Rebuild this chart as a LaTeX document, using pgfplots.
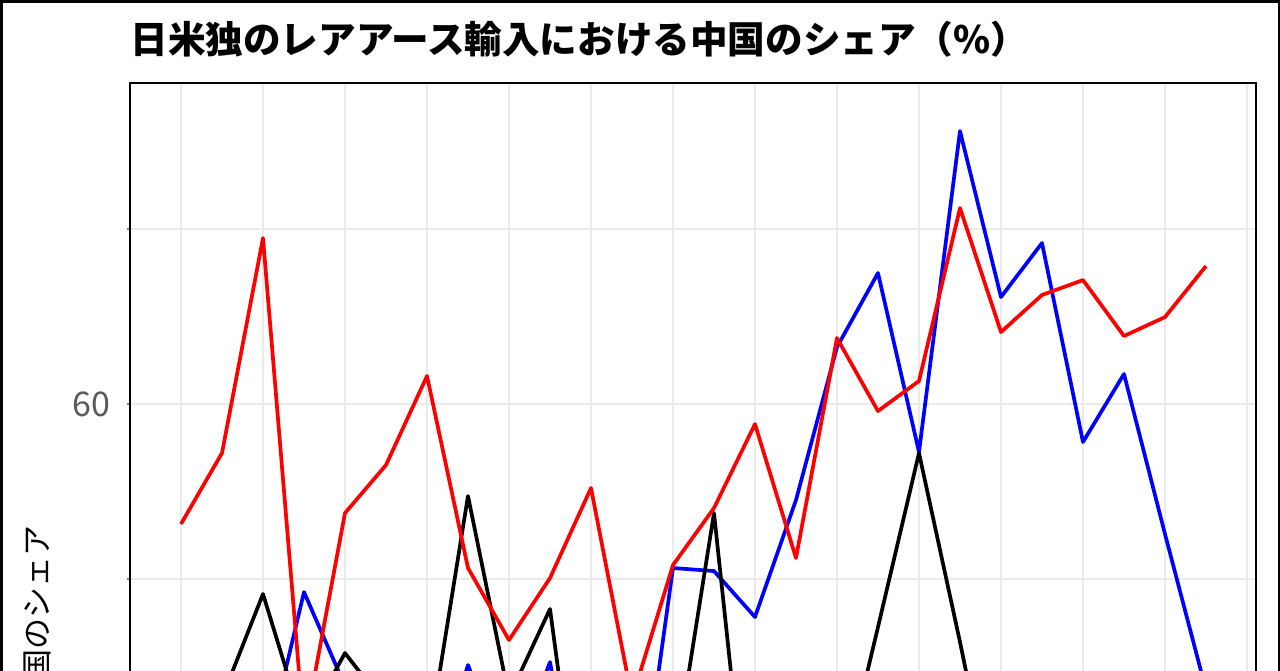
\documentclass[border=0pt]{standalone}
\usepackage{fontspec}
\usepackage{pgfplots}
\pgfplotsset{compat=1.18}
\newfontfamily\cjk{Noto Sans CJK JP}
\definecolor{gridgray}{HTML}{EBEBEB}
\definecolor{ticktxt}{HTML}{5A5A5A}

% index 0..25, one point per period; values in %
\pgfplotstableread{
i  jp     us     de
0  46.29  12.0   20.0
1  54.40  8.0    26.4
2  78.97  18.74  38.29
3  22.50  38.51  23.0
4  47.54  27.77  31.54
5  53.03  15.0   25.5
6  63.20  15.0   20.34
7  41.26  30.17  49.49
8  33.03  18.0   26.51
9  40.11  30.51  36.57
10 50.40  5.0    1.83
11 26.29  7.54   2.0
12 41.60  41.26  17.94
13 48.11  40.91  47.54
14 57.71  35.66  3.54
15 42.40  49.03  3.0
16 67.54  66.51  14.86
17 59.20  74.97  34.51
18 62.63  54.51  54.40
19 82.40  91.20  32.80
20 68.23  72.23  10.0
21 72.46  78.40  8.0
22 74.17  55.66  12.0
23 67.77  63.43  5.0
24 69.94  45.14  9.0
25 75.77  27.31  6.0
}\shares

\begin{document}
\begin{tikzpicture}
\path[use as bounding box] (0,0) rectangle (640pt,-335pt);
\clip (0,0) rectangle (640pt,-335pt);
\fill[white] (0,0) rectangle (640pt,-335pt);

\begin{axis}[
    at={(65pt,-41.5pt)}, anchor=north west,
    scale only axis,
    width=563pt, height=423pt,
    xmin=-1.244, xmax=26.22,
    ymin=0, ymax=96.69,
    xtick={0,2,...,26},
    xticklabels={},
    xtick style={draw=none},
    ytick={40,60,80},
    yticklabels={,60,},
    ytick pos=left,
    tick align=outside,
    major tick length=1.5pt,
    ytick style={draw=gray, line width=0.6pt},
    grid=major,
    major grid style={draw=gridgray, line width=1.1pt},
    axis line style={black, line width=0.9pt},
    yticklabel style={font=\cjk\fontsize{17}{17}\selectfont, text=ticktxt, xshift=-5pt},
    /pgf/number format/assume math mode=true,
]
\addplot[blue, line width=1.85pt, line join=round] table[x=i, y=us] {\shares};
\addplot[black, line width=1.85pt, line join=round] table[x=i, y=de] {\shares};
\addplot[red, line width=1.85pt, line join=round] table[x=i, y=jp] {\shares};
\end{axis}

\node[anchor=west, inner sep=0pt, font=\cjk\bfseries\fontsize{18.8}{18.8}\selectfont]
    at (65pt,-19.5pt) {日米独のレアアース輸入における中国のシェア（\%）};
\node[rotate=90, anchor=east, inner sep=0pt, font=\cjk\fontsize{15.5}{15.5}\selectfont]
    at (18.5pt,-262.5pt) {中国のシェア};

\draw[line width=2.5pt] (0,-340pt) -- (0,0) -- (640pt,0) -- (640pt,-340pt);
\end{tikzpicture}
\end{document}
